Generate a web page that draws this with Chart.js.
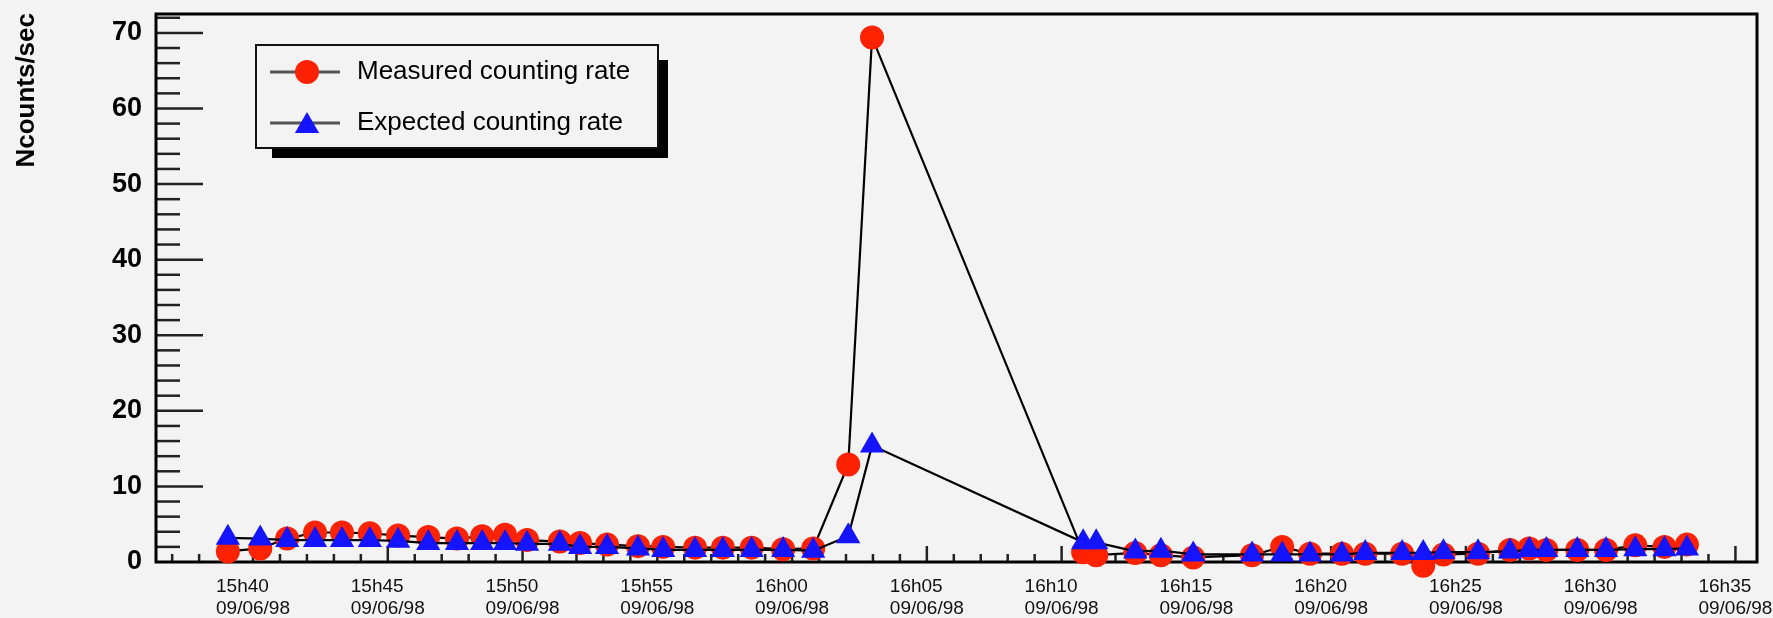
<!DOCTYPE html>
<html>
<head>
<meta charset="utf-8">
<script src="https://cdn.jsdelivr.net/npm/chart.js@4.4.0/dist/chart.umd.min.js"></script>
<style>
  html, body { margin: 0; padding: 0; background: #f3f3f3; }
  #wrap { width: 1773px; height: 618px; }
</style>
</head>
<body>
<div id="wrap"><canvas id="rateChart" width="1773" height="618"></canvas></div>
<script>
// sample times (09/06/98) and counting rates
const sampleTimes = [
  '15:39:04','15:40:16','15:41:16','15:42:18','15:43:18','15:44:20','15:45:23','15:46:30','15:47:34','15:48:30',
  '15:49:21','15:50:10','15:51:23','15:52:08','15:53:08','15:54:17','15:55:13','15:56:24','15:57:26','15:58:30',
  '15:59:40','16:00:47','16:02:05','16:02:58','16:10:48','16:11:17','16:12:44','16:13:41','16:14:53','16:17:04',
  '16:18:11','16:19:13','16:20:24','16:21:16','16:22:38','16:23:25','16:24:10','16:25:27','16:26:38','16:27:21',
  '16:27:59','16:29:08','16:30:12','16:31:17','16:32:22','16:33:12'
];
const measuredRate = [
  1.4, 1.8, 3.1, 3.9, 3.9, 3.8, 3.5, 3.3, 3.1, 3.4,
  3.6, 2.9, 2.7, 2.5, 2.3, 2.1, 2.0, 1.9, 1.9, 1.9,
  1.7, 1.8, 12.9, 69.4, 1.3, 0.9, 1.2, 0.9, 0.6, 0.9,
  2.0, 1.1, 1.1, 1.1, 1.1, -0.5, 1.0, 1.1, 1.6, 1.8,
  1.6, 1.6, 1.6, 2.2, 2.0, 2.3
];
const expectedRate = [
  3.2, 3.1, 2.9, 2.9, 2.9, 2.9, 2.8, 2.5, 2.5, 2.5,
  2.5, 2.4, 2.4, 2.0, 2.0, 1.8, 1.6, 1.6, 1.6, 1.6,
  1.6, 1.5, 3.4, 15.4, 2.6, 2.6, 1.4, 1.5, 1.0, 1.0,
  1.0, 1.0, 1.0, 1.2, 1.2, 1.2, 1.3, 1.3, 1.4, 1.6,
  1.6, 1.6, 1.6, 1.7, 1.7, 1.8
];
const seriesLabels = ['Measured counting rate', 'Expected counting rate'];
const dateLabel = '09/06/98';
// x axis in minutes after 15h00
const xTicks = [40, 45, 50, 55, 60, 65, 70, 75, 80, 85, 90, 95];
const yTicks = [0, 10, 20, 30, 40, 50, 60, 70];

function toMinutes(t) {
  const p = t.split(':').map(Number);
  return (p[0] - 15) * 60 + p[1] + p[2] / 60;
}
function fmtTime(m) {
  const h = 15 + Math.floor(m / 60);
  const mm = Math.round(m % 60);
  return h + 'h' + (mm < 10 ? '0' : '') + mm;
}

const xs = sampleTimes.map(toMinutes);
const measuredPts = xs.map((x, i) => ({ x: x, y: measuredRate[i] }));
const expectedPts = xs.map((x, i) => ({ x: x, y: expectedRate[i] }));

const RED = '#ff2200';
const BLUE = '#1414ff';
const FONT = '"Liberation Sans", Arial, Helvetica, sans-serif';

function drawTriangle(ctx, x, y, r) {
  ctx.beginPath();
  ctx.moveTo(x, y - r);
  ctx.lineTo(x + r * 0.866, y + r * 0.5);
  ctx.lineTo(x - r * 0.866, y + r * 0.5);
  ctx.closePath();
  ctx.fill();
}

// frame and inward ticks, like the ROOT axes
const framePlugin = {
  id: 'frame',
  beforeDatasetsDraw(chart) {
    const ctx = chart.ctx;
    const a = chart.chartArea;
    const xs_ = chart.scales.x, ys_ = chart.scales.y;
    ctx.save();
    ctx.strokeStyle = '#222';
    ctx.lineWidth = 2.5;
    for (let v = 2; v <= 72; v += 2) {
      const y = ys_.getPixelForValue(v);
      const len = v % 10 === 0 ? 47 : 24;
      ctx.beginPath();
      ctx.moveTo(a.left, y);
      ctx.lineTo(a.left + len, y);
      ctx.stroke();
    }
    for (let m = 37; m <= 95; m++) {
      const x = xs_.getPixelForValue(m);
      const len = m % 5 === 0 ? 16 : 8;
      ctx.beginPath();
      ctx.moveTo(x, a.bottom);
      ctx.lineTo(x, a.bottom - len);
      ctx.stroke();
    }
    ctx.strokeStyle = '#000';
    ctx.lineWidth = 3;
    ctx.strokeRect(a.left, a.top, a.right - a.left, a.bottom - a.top);
    ctx.restore();
  }
};

const legendPlugin = {
  id: 'boxLegend',
  afterDraw(chart) {
    const ctx = chart.ctx;
    ctx.save();
    // axis title
    ctx.translate(27, 13);
    ctx.rotate(-Math.PI / 2);
    ctx.font = 'bold 26px ' + FONT;
    ctx.fillStyle = '#000';
    ctx.textAlign = 'right';
    ctx.textBaseline = 'middle';
    ctx.fillText('Ncounts/sec', 0, 0);
    ctx.restore();

    ctx.save();
    ctx.fillStyle = '#000';
    ctx.fillRect(272, 60, 396, 98);
    ctx.fillStyle = '#f3f3f3';
    ctx.fillRect(256, 45, 402, 103);
    ctx.strokeStyle = '#111';
    ctx.lineWidth = 2;
    ctx.strokeRect(256, 45, 402, 103);
    const rowY = [72, 123];
    chart.data.datasets.forEach((ds, i) => {
      const y = rowY[i];
      ctx.strokeStyle = '#555';
      ctx.lineWidth = 3;
      ctx.beginPath();
      ctx.moveTo(270, y);
      ctx.lineTo(340, y);
      ctx.stroke();
      ctx.fillStyle = ds.pointBackgroundColor;
      if (ds.pointStyle === 'triangle') {
        drawTriangle(ctx, 307, y + 3, ds.pointRadius);
      } else {
        ctx.beginPath();
        ctx.arc(307, y, ds.pointRadius, 0, Math.PI * 2);
        ctx.fill();
      }
      ctx.fillStyle = '#000';
      ctx.font = '26px ' + FONT;
      ctx.textAlign = 'left';
      ctx.textBaseline = 'middle';
      ctx.fillText(ds.label, 357, y);
    });
    ctx.restore();
  }
};

new Chart(document.getElementById('rateChart'), {
  type: 'scatter',
  data: {
    datasets: [
      {
        label: seriesLabels[0],
        data: measuredPts,
        showLine: true,
        borderColor: '#000',
        borderWidth: 2.2,
        pointStyle: 'circle',
        pointRadius: 12,
        pointBackgroundColor: RED,
        pointBorderColor: RED,
        pointBorderWidth: 0,
        clip: false,
        order: 2
      },
      {
        label: seriesLabels[1],
        data: expectedPts,
        showLine: true,
        borderColor: '#000',
        borderWidth: 2.2,
        pointStyle: 'triangle',
        pointRadius: 14,
        pointBackgroundColor: BLUE,
        pointBorderColor: BLUE,
        pointBorderWidth: 0,
        clip: false,
        order: 1
      }
    ]
  },
  options: {
    responsive: false,
    animation: false,
    layout: { padding: { left: 0, top: 11, right: 16, bottom: 0 } },
    plugins: { legend: { display: false }, tooltip: { enabled: false } },
    scales: {
      x: {
        type: 'linear',
        min: 36.4,
        max: 95.8,
        grid: { display: false, drawTicks: false },
        border: { display: false },
        afterBuildTicks: s => { s.ticks = xTicks.map(v => ({ value: v })); },
        afterFit: s => { s.height = 56; s.paddingLeft = 0; s.paddingRight = 0; },
        ticks: {
          autoSkip: false,
          maxRotation: 0,
          align: 'start',
          labelOffset: -37,
          padding: 13,
          color: '#111',
          font: { family: FONT, size: 19, lineHeight: 1.2 },
          callback: v => [fmtTime(v), dateLabel]
        }
      },
      y: {
        min: 0,
        max: 72.5,
        grid: { display: false, drawTicks: false },
        border: { display: false },
        afterBuildTicks: s => { s.ticks = yTicks.map(v => ({ value: v })); },
        afterFit: s => { s.width = 156; s.paddingTop = 0; s.paddingBottom = 0; },
        ticks: {
          padding: 14,
          color: '#000',
          font: { family: FONT, size: 27, weight: 'bold' }
        }
      }
    }
  },
  plugins: [framePlugin, legendPlugin]
});
</script>
</body>
</html>
